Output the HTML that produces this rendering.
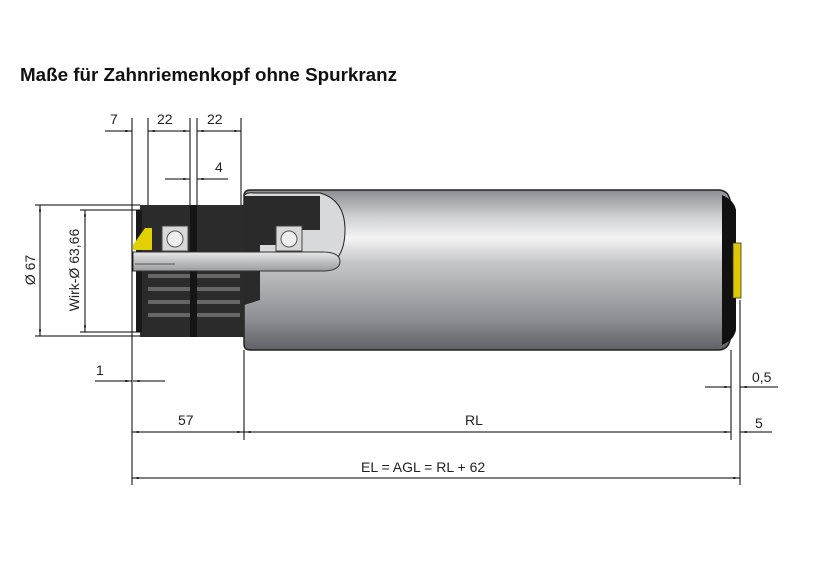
<!DOCTYPE html>
<html><head><meta charset="utf-8"><style>
body{margin:0;background:#fff;}
svg{display:block;font-family:"Liberation Sans",sans-serif;}
</style></head><body>
<svg width="822" height="563" viewBox="0 0 822 563" xmlns="http://www.w3.org/2000/svg">
<defs>
<linearGradient id="tube" x1="0" y1="0" x2="0" y2="1">
<stop offset="0" stop-color="#8a8d92"/><stop offset="0.15" stop-color="#c9cbce"/>
<stop offset="0.3" stop-color="#f4f4f4"/><stop offset="0.45" stop-color="#c5c7ca"/>
<stop offset="0.8" stop-color="#8d9094"/><stop offset="1" stop-color="#5e6166"/>
</linearGradient>
<linearGradient id="shaft" x1="0" y1="0" x2="0" y2="1">
<stop offset="0" stop-color="#e8e8e8"/><stop offset="0.5" stop-color="#bfc1c3"/><stop offset="1" stop-color="#9a9c9f"/>
</linearGradient>
<marker id="a" viewBox="0 0 10 6" refX="10" refY="3" markerWidth="8" markerHeight="4" orient="auto-start-reverse"><path d="M0,1.5 L10,3 L0,4.5Z" fill="#000"/></marker>
</defs>
<text x="20" y="81" font-size="18.5" font-weight="bold" fill="#111" textLength="377" lengthAdjust="spacingAndGlyphs">Maße für Zahnriemenkopf ohne Spurkranz</text>

<!-- tube -->
<path d="M250,190 H718 Q728,190 730,200 V340 Q728,350 718,350 H250 Q244,350 244,344 V196 Q244,190 250,190Z" fill="url(#tube)" stroke="#222" stroke-width="1.5"/>
<path d="M722,195 Q734,200 736,210 V330 Q734,340 722,345Z" fill="#111"/>
<rect x="733" y="243" width="8" height="55" fill="#e0c800" stroke="#333" stroke-width="0.8"/>
<!-- cutaway of tube -->
<path d="M244,196 Q246,192 255,193 H320 Q345,200 345,230 Q345,262 320,270 H244Z" fill="#d8d9db" stroke="#222" stroke-width="1"/>
<path d="M244,196 H320 V230 H300 V245 H260 V300 L244,305Z" fill="#2a2a2a"/>
<!-- housing -->
<rect x="140" y="205" width="104" height="132" fill="#2b2b2b"/>
<rect x="136" y="210" width="6" height="122" fill="#1a1a1a"/>
<path d="M133,245 L145,228 H152 V250 H133Z" fill="#e2d000"/>
<rect x="162" y="226" width="26" height="25" fill="#d8d8d8" stroke="#444"/>
<circle cx="175" cy="239" r="8" fill="#eee" stroke="#555"/>
<rect x="276" y="226" width="26" height="25" fill="#d8d8d8" stroke="#444"/>
<circle cx="289" cy="239" r="8" fill="#eee" stroke="#555"/>
<!-- teeth -->
<g fill="#666"><rect x="148" y="274" width="92" height="4"/><rect x="148" y="287" width="92" height="4"/><rect x="148" y="300" width="92" height="4"/><rect x="148" y="313" width="92" height="4"/></g>
<rect x="190" y="205" width="7" height="132" fill="#151515"/>
<!-- shaft -->
<path d="M133,252 H322 Q340,252 340,261.5 Q340,271 322,271 H133Z" fill="url(#shaft)" stroke="#333" stroke-width="1"/>
<g stroke="#555" stroke-width="1"><line x1="135" y1="264" x2="175" y2="264"/></g>

<!-- dimension lines -->
<g stroke="#000" stroke-width="1" fill="none">
<line x1="132" y1="118" x2="132" y2="485"/>
<line x1="148" y1="118" x2="148" y2="205"/>
<line x1="190" y1="118" x2="190" y2="205"/>
<line x1="197" y1="118" x2="197" y2="205"/>
<line x1="241" y1="118" x2="241" y2="205"/>
<line x1="244" y1="350" x2="244" y2="440"/>
<line x1="731" y1="350" x2="731" y2="440"/>
<line x1="740" y1="300" x2="740" y2="485"/>
<line x1="105" y1="131" x2="132" y2="131"/>
<line x1="116" y1="131" x2="132" y2="131" marker-end="url(#a)"/>
<line x1="148" y1="131" x2="190" y2="131" marker-start="url(#a)" marker-end="url(#a)"/>
<line x1="197" y1="131" x2="241" y2="131" marker-start="url(#a)" marker-end="url(#a)"/>
<line x1="165" y1="179" x2="190" y2="179" marker-end="url(#a)"/>
<line x1="197" y1="179" x2="228" y2="179" marker-start="url(#a)"/>
<line x1="35" y1="205" x2="140" y2="205"/>
<line x1="35" y1="336" x2="140" y2="336"/>
<line x1="80" y1="210" x2="140" y2="210"/>
<line x1="80" y1="332" x2="140" y2="332"/>
<line x1="40" y1="205" x2="40" y2="336" marker-start="url(#a)" marker-end="url(#a)"/>
<line x1="85" y1="210" x2="85" y2="332" marker-start="url(#a)" marker-end="url(#a)"/>
<line x1="95" y1="381" x2="132" y2="381" marker-end="url(#a)"/>
<line x1="133" y1="381" x2="165" y2="381" marker-start="url(#a)"/>
<line x1="705" y1="387" x2="731" y2="387" marker-end="url(#a)"/>
<line x1="740" y1="387" x2="778" y2="387" marker-start="url(#a)"/>
<line x1="132" y1="432" x2="244" y2="432" marker-start="url(#a)" marker-end="url(#a)"/>
<line x1="244" y1="432" x2="731" y2="432" marker-start="url(#a)" marker-end="url(#a)"/>
<line x1="740" y1="432" x2="772" y2="432" marker-start="url(#a)"/>
<line x1="132" y1="478" x2="740" y2="478" marker-start="url(#a)" marker-end="url(#a)"/>
</g>
<g font-size="14" fill="#222">
<text x="110" y="124">7</text>
<text x="157" y="124">22</text>
<text x="207" y="124">22</text>
<text x="215" y="172">4</text>
<text x="96" y="375">1</text>
<text x="178" y="425">57</text>
<text x="465" y="425">RL</text>
<text x="752" y="382">0,5</text>
<text x="755" y="428">5</text>
<text x="361" y="472">EL = AGL = RL + 62</text>
<text transform="translate(35,270) rotate(-90)" text-anchor="middle">Ø 67</text>
<text transform="translate(79,270) rotate(-90)" text-anchor="middle">Wirk-Ø 63,66</text>
</g>
</svg>
</body></html>
